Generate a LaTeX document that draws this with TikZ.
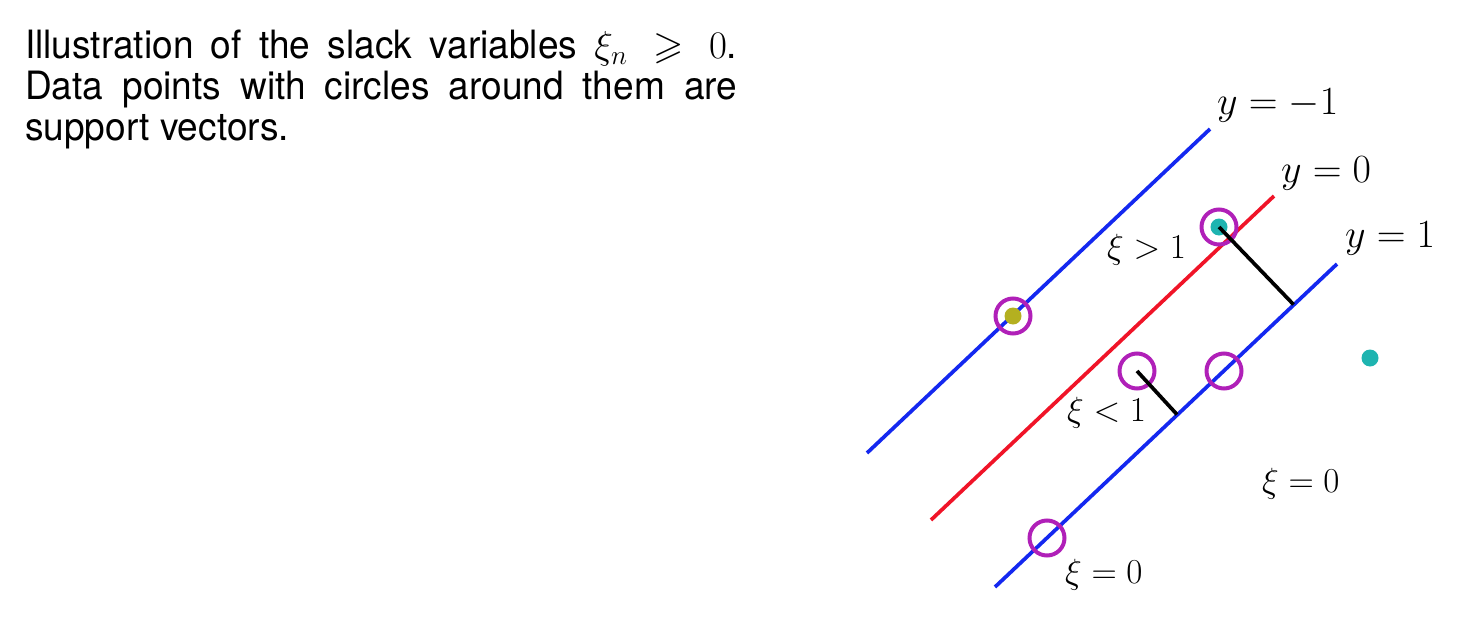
\RequirePackage{fix-cm}
\documentclass[tikz,border=0pt]{standalone}
\usepackage{amssymb}
\usepackage{fontspec}
\setmainfont{TeX Gyre Heros}[FakeStretch=0.95]
\definecolor{lineblue}{RGB}{20,40,240}
\definecolor{linered}{RGB}{240,20,40}
\definecolor{svmag}{RGB}{176,32,184}
\definecolor{dotcyan}{RGB}{30,180,176}
\definecolor{dotolive}{RGB}{180,176,32}
\begin{document}
\begin{tikzpicture}[x=1pt,y=-1pt,
  margin/.style={lineblue,line width=3.7pt},
  boundary/.style={linered,line width=3.7pt},
  slack/.style={black,line width=3.7pt},
  svring/.style={circle,draw=svmag,line width=4pt,minimum size=35pt,inner sep=0pt},
  dotpt/.style={circle,inner sep=0pt,minimum size=17pt},
  ylab/.style={anchor=base west,inner sep=0pt,font=\fontsize{40}{48}\selectfont},
  xilab/.style={anchor=base west,inner sep=0pt,font=\fontsize{35}{42}\selectfont}]
\useasboundingbox (0,0) rectangle (1468,640);
% caption
\node[anchor=north west,inner sep=0pt,text width=712pt,align=justify,
  font=\fontsize{39}{41}\selectfont] (cap) at (25,30)
  {Illustration of the slack variables $\xi_n \geqslant 0$.\linebreak Data points with circles around them are\linebreak support vectors.};
% lines
\coordinate (m1a) at (867,453); \coordinate (m1b) at (1210,129);
\coordinate (b0a) at (931,520); \coordinate (b0b) at (1274,196);
\coordinate (m2a) at (995,587); \coordinate (m2b) at (1337,264);
\draw[margin] (m1a) -- (m1b);
\draw[boundary] (b0a) -- (b0b);
\draw[margin] (m2a) -- (m2b);
% data points
\node[dotpt,fill=dotolive] (p1) at (1013,316) {};
\node[svring] (c1) at (1013,316) {};
\node[dotpt,fill=dotcyan] (p2) at (1219,227) {};
\node[svring] (c2) at (1219,227) {};
\node[svring] (c3) at (1137,371) {};
\node[svring] (c4) at (1224,371) {};
\node[svring] (c5) at (1047,538) {};
\node[dotpt,fill=dotcyan] (p3) at (1370,358) {};
% slack segments
\coordinate (f2) at (1293.5,304.5);
\coordinate (f3) at (1177,414.5);
\draw[slack] (p2.center) -- (f2);
\draw[slack] (c3.center) -- (f3);
% labels
\node[ylab] (l1) at (1217,114) {$y=-1$};
\node[ylab] (l2) at (1281,182) {$y=0$};
\node[ylab] (l3) at (1345,247) {$y=1$};
\node[xilab] (x1) at (1107,258) {$\xi>1$};
\node[xilab] (x2) at (1067,421) {$\xi<1$};
\node[xilab] (x3) at (1262,492) {$\xi=0$};
\node[xilab] (x4) at (1065,583) {$\xi=0$};
\end{tikzpicture}
\end{document}
